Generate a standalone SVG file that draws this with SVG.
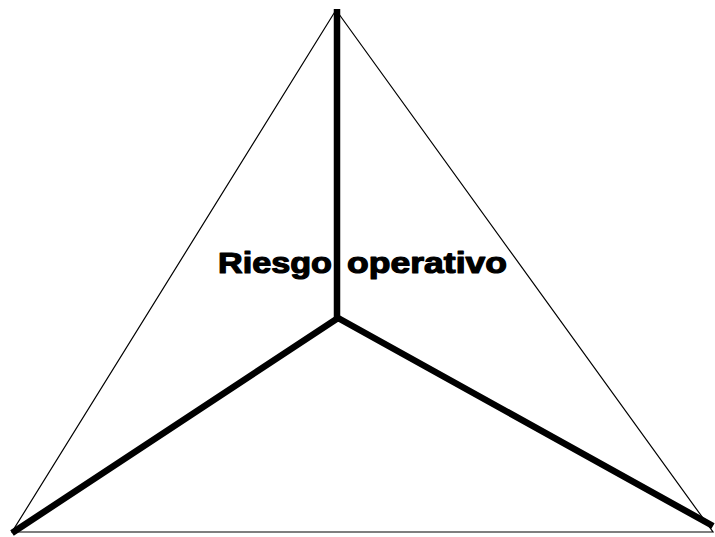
<svg xmlns="http://www.w3.org/2000/svg" width="715" height="537" viewBox="0 0 715 537">
  <style>
    .edge { stroke: #000; stroke-width: 1.2; fill: none; }
    .spoke { stroke: #000; stroke-width: 6.5; fill: none; stroke-linecap: butt; stroke-linejoin: miter; }
    .label { font-family: "Liberation Sans", Arial, sans-serif; font-weight: bold; font-size: 30px; fill: #000; stroke: #000; stroke-width: 1.2; stroke-linejoin: round; }
  </style>
  <rect width="715" height="537" fill="#fff"/>
  <g id="connectors">
    <!-- outer triangle -->
    <polygon class="edge" points="336,10 12,532 713,532"/>
    <!-- three spokes meeting at the centre -->
    <line class="spoke" x1="337" y1="9" x2="337" y2="320"/>
    <polyline class="spoke" points="12,533 338,318 713,526"/>
  </g>
  <g id="title">
    <text class="label" y="273"><tspan x="218" textLength="114" lengthAdjust="spacingAndGlyphs">Riesgo</tspan> <tspan x="347" textLength="160" lengthAdjust="spacingAndGlyphs">operativo</tspan></text>
  </g>
</svg>
